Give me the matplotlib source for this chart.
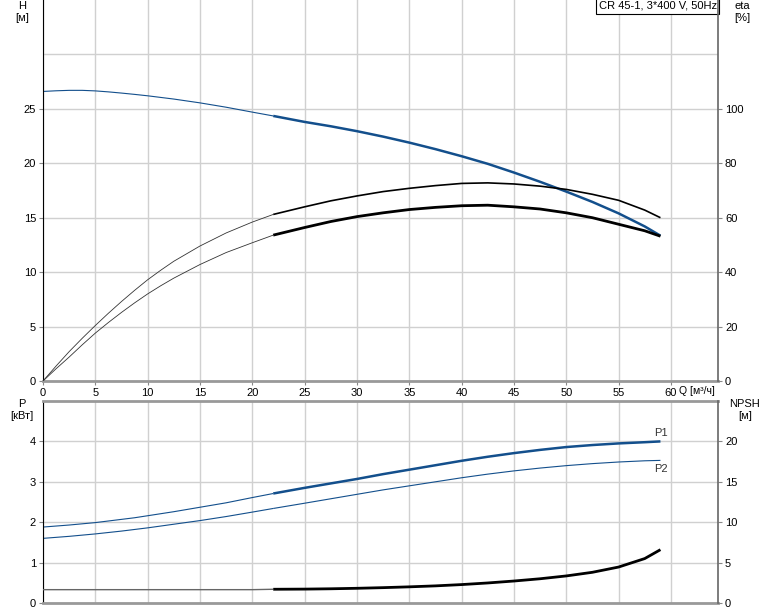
import numpy as np
import matplotlib.pyplot as plt

plt.rcParams['font.family'] = ['Liberation Sans', 'DejaVu Sans']

# flow, m3/h
q = [0, 1.25, 2.5, 3.75, 5, 6.25, 7.5, 8.75, 10, 11.25, 12.5, 15, 17.5, 20,
     22, 25, 27.5, 30, 32.5, 35, 37.5, 40, 42.5, 45, 47.5, 50, 52.5, 55,
     57.5, 59]
# head, m
head = [26.6, 26.66, 26.7, 26.7, 26.65, 26.56, 26.45, 26.33, 26.2, 26.05,
        25.9, 25.55, 25.15, 24.7, 24.35, 23.8, 23.4, 22.95, 22.45, 21.9, 21.3,
        20.65, 19.95, 19.15, 18.3, 17.4, 16.45, 15.4, 14.2, 13.35]
# efficiencies, %
eta_upper = [0, 5.5, 10.8, 15.7, 20.4, 24.9, 29.2, 33.3, 37.2, 40.7, 44, 49.6,
             54.4, 58.4, 61.2, 64, 66.2, 68, 69.6, 70.8, 71.8, 72.6, 72.8,
             72.4, 71.6, 70.4, 68.6, 66.4, 62.8, 60]
eta_lower = [0, 4.5, 8.8, 13.3, 17.6, 21.5, 25.2, 28.7, 32, 35.0, 37.8, 42.8,
             47.2, 50.8, 53.6, 56.4, 58.6, 60.4, 61.8, 63, 63.8, 64.4, 64.6,
             64, 63.2, 61.8, 60, 57.6, 55.2, 53.2]
# power, kW
p1 = [1.88, 1.905, 1.93, 1.96, 1.99, 2.03, 2.07, 2.11, 2.16, 2.21, 2.26, 2.37,
      2.48, 2.61, 2.71, 2.85, 2.96, 3.07, 3.19, 3.3, 3.41, 3.52, 3.62, 3.71,
      3.79, 3.86, 3.91, 3.95, 3.98, 4.0]
p2 = [1.6, 1.625, 1.65, 1.68, 1.71, 1.745, 1.78, 1.82, 1.86, 1.905, 1.95,
      2.04, 2.14, 2.25, 2.34, 2.47, 2.58, 2.69, 2.8, 2.9, 3.0, 3.1, 3.19,
      3.27, 3.34, 3.4, 3.45, 3.49, 3.52, 3.53]
# NPSH, m
npsh = [1.65, 1.65, 1.65, 1.65, 1.65, 1.65, 1.65, 1.65, 1.65, 1.65, 1.65,
        1.65, 1.65, 1.65, 1.7, 1.72, 1.76, 1.82, 1.9, 2.0, 2.12, 2.28, 2.48,
        2.72, 3.0, 3.35, 3.8, 4.45, 5.5, 6.6]

title = 'CR 45-1, 3*400 V, 50Hz'
q_ticks = list(range(0, 61, 5))
h_ticks = list(range(0, 26, 5))
eta_ticks = list(range(0, 101, 20))
p_ticks = [0, 1, 2, 3, 4]
npsh_ticks = [0, 5, 10, 15, 20]

BLUE = '#134f8c'
GRID = '#d0d0d0'
FS = 8

q = np.array(q)
duty = q >= 22  # thick part = operating range
i0 = np.argmax(duty)


def split_plot(ax, y, color, thin_w, thick_w, thin_color=None):
    y = np.array(y)
    ax.plot(q[:i0 + 1], y[:i0 + 1], color=thin_color or color, lw=thin_w,
            solid_capstyle='butt')
    ax.plot(q[duty], y[duty], color=color, lw=thick_w, solid_capstyle='butt')


def style(ax, twin):
    ax.set_xlim(0, 64.5)
    ax.grid(True, color=GRID, lw=1)
    ax.set_axisbelow(True)
    ax.spines['left'].set_color('black')
    ax.spines['top'].set_visible(False)
    ax.spines['right'].set_visible(False)
    ax.spines['bottom'].set_color('#999999')
    ax.spines['bottom'].set_linewidth(2)
    ax.tick_params(axis='both', labelsize=FS, length=3, color='#888888',
                   pad=2)
    twin.spines['right'].set_color('#666666')
    twin.spines['right'].set_linewidth(1.2)
    for s in ('left', 'top', 'bottom'):
        twin.spines[s].set_visible(False)
    twin.tick_params(axis='y', labelsize=FS, length=3, color='#888888', pad=2)


fig = plt.figure(figsize=(7.74, 6.11), dpi=100)
ax_top = fig.add_axes([43 / 774, 1 - 381 / 611, 675 / 774, 381 / 611])
ax_bot = fig.add_axes([43 / 774, 1 - 603 / 611, 675 / 774, 202 / 611])

# top panel: head + efficiency
tw_top = ax_top.twinx()
style(ax_top, tw_top)
ax_top.set_ylim(0, 35)
ax_top.set_yticks(h_ticks)
ax_top.set_yticks([30], minor=True)
ax_top.grid(True, which='minor', axis='y', color=GRID, lw=1)
ax_top.tick_params(axis='y', which='minor', length=0)
ax_top.set_xticks(q_ticks)
tw_top.set_ylim(0, 140)
tw_top.set_yticks(eta_ticks)
split_plot(ax_top, head, BLUE, 0.8, 1.8)
split_plot(tw_top, eta_upper, 'black', 0.6, 1.2, '#333333')
split_plot(tw_top, eta_lower, 'black', 0.6, 2.0, '#333333')
ax_top.text(0.998, 0.998, title, transform=ax_top.transAxes, ha='right',
            va='top', fontsize=FS,
            bbox=dict(boxstyle='square,pad=0.25', fc='white', ec='black',
                      lw=0.8))
ax_top.text(60.8, -0.45, 'Q [м³/ч]', ha='left', va='top', fontsize=FS - 0.5)

# bottom panel: power + NPSH
tw_bot = ax_bot.twinx()
style(ax_bot, tw_bot)
ax_bot.spines['top'].set_visible(True)
ax_bot.spines['top'].set_color('#999999')
ax_bot.spines['top'].set_linewidth(2)
ax_bot.set_ylim(0, 5)
ax_bot.set_yticks(p_ticks)
ax_bot.set_xticks(q_ticks)
ax_bot.tick_params(axis='x', labelbottom=False, length=0)
tw_bot.set_ylim(0, 25)
tw_bot.set_yticks(npsh_ticks)
split_plot(ax_bot, p1, BLUE, 0.8, 1.8)
split_plot(ax_bot, p2, BLUE, 0.8, 0.8)
split_plot(tw_bot, npsh, 'black', 1.0, 2.0, '#666666')
ax_bot.text(q[-1], p1[-1] + 0.08, 'P1', ha='center', va='bottom',
            fontsize=FS, color='#333333')
ax_bot.text(q[-1], p2[-1] - 0.08, 'P2', ha='center', va='top',
            fontsize=FS, color='#333333')

# axis captions
fig.text(22 / 774, 1 - 1 / 611, 'H\n[м]', ha='center', va='top',
         fontsize=FS, linespacing=1.3)
fig.text(742 / 774, 1 - 1 / 611, 'eta\n[%]', ha='center', va='top',
         fontsize=FS, linespacing=1.3)
fig.text(22 / 774, 1 - 399 / 611, 'P\n[кВт]', ha='center', va='top',
         fontsize=FS, linespacing=1.3)
fig.text(745 / 774, 1 - 399 / 611, 'NPSH\n[м]', ha='center', va='top',
         fontsize=FS, linespacing=1.3)

fig.savefig('out.png', dpi=100)
